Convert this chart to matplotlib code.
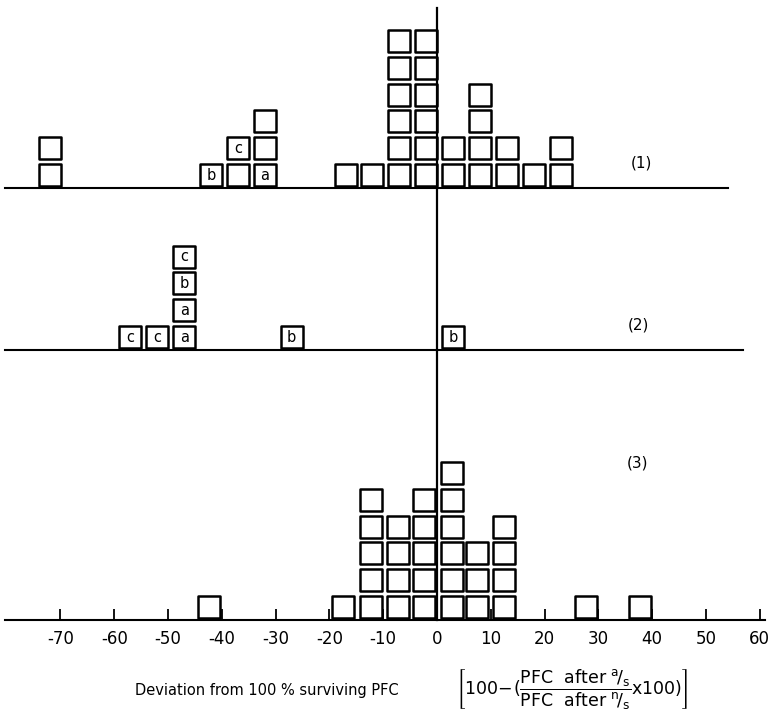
"""
Dot-plot of PFC deviations, three panels of stacked squares
"""
import matplotlib
matplotlib.use("Agg")
import matplotlib.pyplot as plt
import matplotlib.transforms as mtransforms
from matplotlib.patches import Rectangle
from matplotlib.lines import Line2D

plt.rcParams["font.family"] = ["DejaVu Sans"]
plt.rcParams["axes.unicode_minus"] = False
plt.rcParams["mathtext.fontset"] = "dejavusans"
plt.rcParams["mathtext.default"] = "regular"

# ---- data: column positions and stacks (bottom -> top, "." = no letter) ----
p1_x = [-72, -42, -37, -32, -17, -12, -7, -2, 3, 8, 13, 18, 23]
p1_stacks = ["..", "b", ".c", "a..", ".", ".", "......", "......",
             "..", "....", "..", ".", ".."]

p2_x = [-57, -52, -47, -27, 3]
p2_stacks = ["c", "c", "aabc", "b", "b"]

p3_x = [-42.3, -17.4, -12.3, -7.2, -2.4, 2.7, 7.5, 12.5, 27.7, 37.7]
p3_counts = [1, 1, 5, 4, 5, 6, 3, 4, 1, 1]

ticks = [-70, -60, -50, -40, -30, -20, -10, 0, 10, 20, 30, 40, 50, 60]
panel_names = ["(1)", "(2)", "(3)"]

# ---- layout (pixels) ----
W, H = 774, 715
X0, PPU = 437, 5.38      # pixel of x=0, pixels per unit
PITCH = 26.8             # row pitch in pixels
SQ = 22                  # square size in pixels


def v(px):
    return (px - X0) / PPU


fig = plt.figure(figsize=(W / 100, H / 100), dpi=100)


def panel(left, right, top, base):
    ax = fig.add_axes([left / W, 1 - base / H, (right - left) / W, (base - top) / H])
    ax.set_xlim(v(left), v(right))
    ax.set_ylim(0, (base - top) / PITCH)
    for s in ["top", "left", "right"]:
        ax.spines[s].set_visible(False)
    ax.spines["bottom"].set_linewidth(1.5)
    ax.set_yticks([])
    ax.set_xticks([])
    ax.patch.set_alpha(0)
    return ax


def draw_stack(ax, x, labels):
    w = SQ / PPU
    h = SQ / PITCH
    gap = 2 / PITCH
    for i, lab in enumerate(labels):
        ax.add_patch(Rectangle((x - w / 2, gap + i), w, h, fill=False,
                               lw=1.8, ec="black", joinstyle="round"))
        if lab != ".":
            ax.text(x, gap + i + h / 2, lab, ha="center", va="center", fontsize=10.5)


ax1 = panel(5, 728, 8, 188)
ax2 = panel(5, 743, 230, 350)
ax3 = panel(5, 765, 440, 620)

for x, st in zip(p1_x, p1_stacks):
    draw_stack(ax1, x, st)
for x, st in zip(p2_x, p2_stacks):
    draw_stack(ax2, x, st)
for x, n in zip(p3_x, p3_counts):
    draw_stack(ax3, x, "." * n)

# x axis of the bottom panel
ax3.set_xticks(ticks)
ax3.set_xticklabels([str(t) for t in ticks], fontsize=12)
ax3.tick_params(axis="x", direction="in", length=8, width=1.3, pad=7)

# vertical zero line through all panels
trans = mtransforms.blended_transform_factory(ax3.transData, fig.transFigure)
fig.add_artist(Line2D([0, 0], [1 - 8 / H, 1 - 620 / H], transform=trans,
                      color="black", lw=1.6))

# panel labels
for (px, py), name in zip([(641, 163), (638, 325), (637, 463)], panel_names):
    fig.text(px / W, 1 - py / H, name, ha="center", va="center", fontsize=11)

# x label
fig.text(135 / W, 1 - 690 / H, "Deviation from 100 % surviving PFC",
         ha="left", va="center", fontsize=10.5)
fig.text(456 / W, 1 - 689 / H,
         r"$\left[100\!-\!(\dfrac{PFC\ \ after\ {}^{a}\!/_{s}}{PFC\ \ after\ {}^{n}\!/_{s}}x100)\right]$",
         ha="left", va="center", fontsize=12.5)

plt.savefig("out.png", dpi=100)
plt.close()
